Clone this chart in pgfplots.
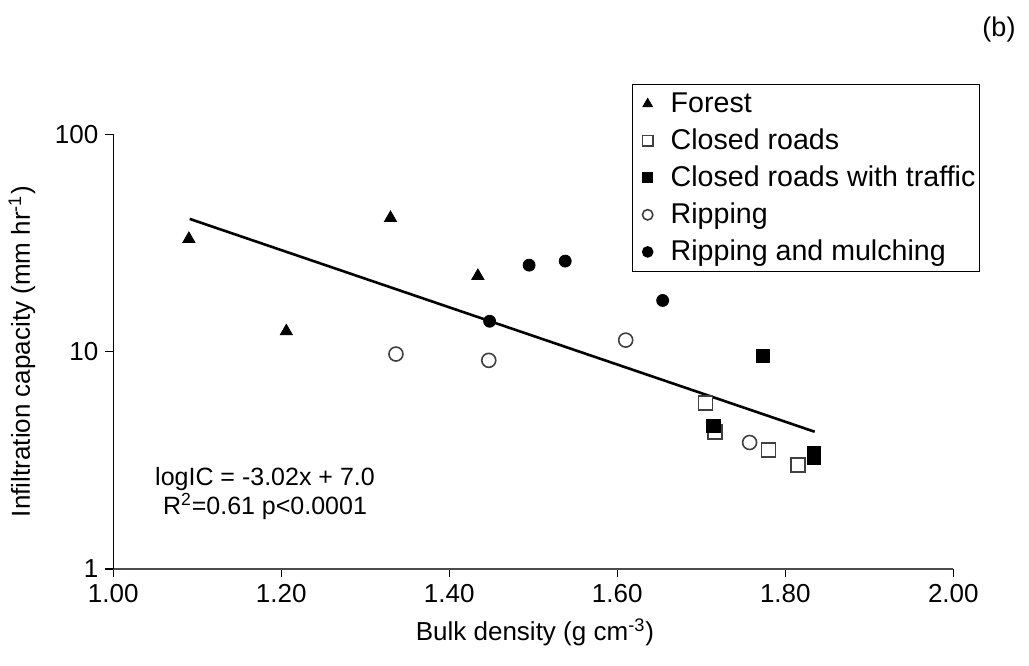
\documentclass[border=0pt]{standalone}
\usepackage{fontspec}
\setmainfont{Liberation Sans}
\usepackage{pgfplots}
\pgfplotsset{compat=1.18}
\begin{document}
\begin{tikzpicture}
\begin{axis}[
  at={(0,0)}, anchor=south west,
  scale only axis, width=420pt, height=217.35pt,
  xmin=1, xmax=2, ymode=log, ymin=1, ymax=100,
  axis x line*=bottom, axis y line*=left,
  x axis line style={draw=black!70, line width=0.7pt},
  y axis line style={draw=black, line width=0.7pt},
  xtick={1,1.2,1.4,1.6,1.8,2},
  xticklabel style={/pgf/number format/.cd, fixed, fixed zerofill, precision=2},
  ytick={1,10,100}, yticklabels={1,10,100},
  yminorticks=false,
  tick align=outside, major tick length=4pt,
  tick style={black, line width=0.6pt},
  clip=false,
  font=\fontsize{13}{15.6}\selectfont,
  /pgf/number format/assume math mode=true,
  xlabel={Bulk density (g cm\textsuperscript{-3})},
  ylabel={Infiltration capacity (mm hr\textsuperscript{-1})},
  xlabel style={at={(axis description cs:0.502,-0.145)}, anchor=center},
  ylabel style={at={(axis description cs:-0.1087,0.5)}, anchor=center},
  legend style={draw=black, line width=0.6pt, fill=white,
    at={(rel axis cs:1.0318,1.1157)}, anchor=north east,
    font=\fontsize{14.3}{15}\selectfont, row sep=2.7pt, inner xsep=0pt, inner ysep=2pt},
  legend cell align=left,
  legend image code/.code={\draw[#1,mark size=2.6pt] plot coordinates {(0.255cm,0cm)};
    \path (0cm,0cm) (0.576cm,0cm);},
]
\addplot[only marks, mark=triangle*, mark size=3.5pt, draw=black, fill=black]
  coordinates {(1.090,33.0) (1.206,12.4) (1.330,41.2) (1.434,22.3)};
\addplot[only marks, mark=square*, mark size=3.5pt, draw=black!75, fill=white, line width=0.8pt]
  coordinates {(1.705,5.81) (1.716,4.27) (1.780,3.52) (1.815,3.01)};
\addplot[only marks, mark=square*, mark size=3.3pt, draw=black, fill=black]
  coordinates {(1.773,9.6) (1.7145,4.54) (1.834,3.40) (1.834,3.24)};
\addplot[only marks, mark=*, mark size=3.5pt, draw=black!75, fill=white, line width=0.8pt]
  coordinates {(1.3365,9.75) (1.447,9.12) (1.610,11.3) (1.7575,3.82)};
\addplot[only marks, mark=*, mark size=3pt, draw=black, fill=black]
  coordinates {(1.448,13.8) (1.495,25.0) (1.538,26.1) (1.654,17.2)};
\addplot[black, line width=1.3pt, forget plot] coordinates {(1.091,40.8) (1.835,4.28)};
\legend{Forest, Closed roads, Closed roads with traffic, Ripping, Ripping and mulching}
\node[align=center, font=\fontsize{12.5}{13}\selectfont] at (rel axis cs:0.1806,0.1737)
  {logIC = -3.02x + 7.0\\R\textsuperscript{2}=0.61 p<0.0001};
\node[font=\fontsize{13.5}{14}\selectfont] at (rel axis cs:1.0544,1.2422) {(b)};
\end{axis}
\pgfresetboundingbox
\path (-56.65pt,-48pt) rectangle (457.85pt,284.5pt);
\end{tikzpicture}
\end{document}
